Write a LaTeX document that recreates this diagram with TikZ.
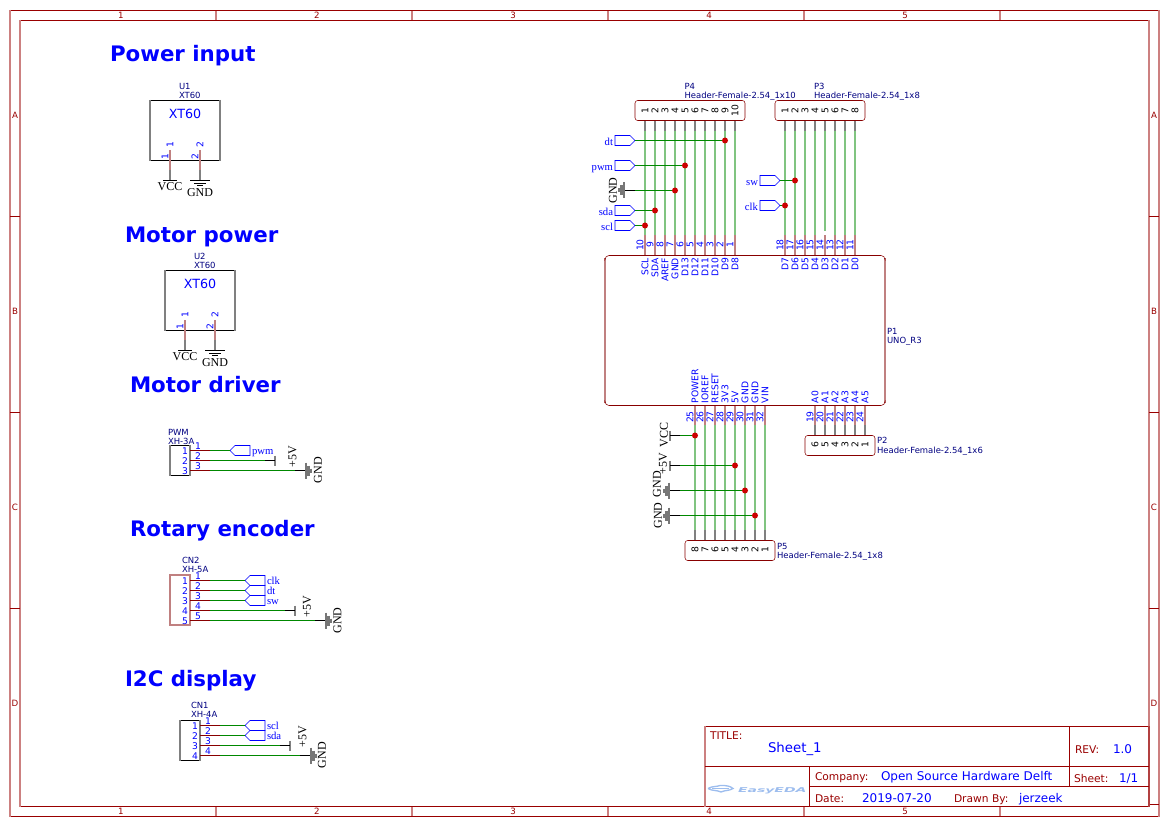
\documentclass[tikz,border=0pt]{standalone}
\usepackage{fontspec}
\setmainfont{DejaVu Sans}
\newfontfamily\serifnet{Liberation Serif}
\definecolor{frm}{HTML}{990000}
\definecolor{frmlt}{HTML}{CC8080}
\definecolor{wirec}{HTML}{008800}
\definecolor{wirelt}{HTML}{80C480}
\definecolor{pinred}{HTML}{880000}
\definecolor{pinlt}{HTML}{C08080}
\definecolor{graylt}{HTML}{808080}
\definecolor{blu}{HTML}{0000FF}
\definecolor{navy2}{HTML}{000080}
\definecolor{dotc}{HTML}{CC0000}
\definecolor{gndg}{HTML}{777777}
\definecolor{logoc}{HTML}{9DBDEE}
\tikzset{
  x=0.75pt,y=-0.75pt,
  line width=0.75pt,
  tx/.style={inner sep=0pt,outer sep=0pt},
  frametxt/.style={tx,text=frm,font=\fontsize{6.5}{7}\selectfont},
  frmv/.style={draw=frmlt,line width=1.5pt},
  tbred/.style={tx,text=frm,anchor=mid west,font=\fontsize{8}{9}\selectfont},
  tbblue/.style={tx,text=blu,anchor=mid west,font=\fontsize{9}{10}\selectfont},
  heading/.style={tx,text=blu,anchor=mid west,font=\fontsize{16}{18}\selectfont\bfseries},
  part/.style={tx,text=navy2,anchor=mid west,font=\fontsize{6.35}{7}\selectfont},
  pinnum/.style={tx,text=blu,font=\fontsize{6.9}{7}\selectfont},
  pinblk/.style={tx,text=black,font=\fontsize{6.9}{7}\selectfont},
  pow/.style={tx,text=black,font=\fontsize{9}{10}\serifnet},
  netl/.style={tx,text=blu,font=\fontsize{8}{9}\serifnet},
  flagline/.style={draw=blu},
  wire/.style={draw=wirec},
  wirev/.style={draw=wirelt,line width=1.5pt},
  pinr/.style={draw=pinred},
  pinv/.style={draw=pinlt,line width=1.5pt},
  pink/.style={draw=black},
  pinkv/.style={draw=graylt,line width=1.5pt},
  hdr/.style={draw=pinred,rounded corners=2pt},
  dot/.style={circle,fill=dotc,inner sep=0pt,minimum size=4.5pt},
  gbar/.style={draw=gndg,line width=1.9pt},
}
% flags: tip pointing right
\newcommand\flagR[4]{%
  \draw[flagline] (#2-20,#3-5) -- (#2-5,#3-5) -- (#2,#3) -- (#2-5,#3+5) -- (#2-20,#3+5) -- cycle;
  \coordinate (#1) at (#2,#3);
  \node[netl,anchor=mid east] (#1t) at (#2-22,#3+1) {#4};}
% flags: tip pointing left
\newcommand\flagL[4]{%
  \draw[flagline] (#2+20,#3-5) -- (#2+5,#3-5) -- (#2,#3) -- (#2+5,#3+5) -- (#2+20,#3+5) -- cycle;
  \coordinate (#1) at (#2,#3);
  \node[netl,anchor=mid west] (#1t) at (#2+22,#3) {#4};}
% GND bars, stem at x, bars going left / right
\newcommand\gndL[3]{%
  \draw[gbar] (#2-1,#3-8) -- (#2-1,#3+8) (#2-3.5,#3-5) -- (#2-3.5,#3+5) (#2-6,#3-2) -- (#2-6,#3+2);
  \coordinate (#1) at (#2,#3);}
\newcommand\gndR[3]{%
  \draw[gbar] (#2+1,#3-8) -- (#2+1,#3+8) (#2+3.5,#3-5) -- (#2+3.5,#3+5) (#2+6,#3-2) -- (#2+6,#3+2);
  \coordinate (#1) at (#2,#3);}
\newcommand\barV[3]{%
  \draw[pinkv] (#2,#3-5) -- (#2,#3+5);
  \coordinate (#1) at (#2,#3);}
\newcommand\junc[3]{\node[dot] (#1) at (#2,#3) {};}
\newcommand\connrow[4]{% name, box right x, y, number
  \coordinate (#1a) at (#2,#3);
  \coordinate (#1b) at (#2+20,#3);
  \draw[pinr] (#1a) -- (#1b);
  \node[pinnum] (#1n) at (#2-5,#3+1) {#4};
  \node[pinnum] (#1m) at (#2+8,#3-4) {#4};}
\begin{document}
\begin{tikzpicture}
\useasboundingbox (0,0) rectangle (1169,827);
% sheet frame
\draw[frm] (10,10.5) -- (1159,10.5) (10,816.5) -- (1159,816.5);
\draw[frm] (20,20.5) -- (1149,20.5) (20,806.5) -- (1149,806.5);
\draw[frmv] (10,10) -- (10,817) (20,20) -- (20,807) (1159,10) -- (1159,817) (1149,20) -- (1149,727);
\foreach \x in {216,412,608,804,1000}{
  \draw[frmv] (\x,11) -- (\x,20);
  \draw[frmv] (\x,807) -- (\x,816);}
\foreach \y in {216.5,412.5,608.5}{
  \draw[frm] (10,\y) -- (20,\y);
  \draw[frm] (1149,\y) -- (1159,\y);}
\draw[frm] (1149,804.5) -- (1159,804.5);
\foreach \x/\n in {121/1,317/2,513/3,709/4,905/5}{
  \node[frametxt] (ft\n) at (\x,15.5) {\n};
  \node[frametxt] (fb\n) at (\x,811.5) {\n};}
\foreach \y/\n in {115/A,311/B,507/C,703/D}{
  \node[frametxt] (fl\n) at (15,\y) {\n};
  \node[frametxt] (fr\n) at (1154,\y) {\n};}
% title block
\draw[frm] (705,726.5) -- (1149,726.5) (705,806.5) -- (1149,806.5);
\draw[frmv] (705,726) -- (705,807);
\draw[draw=frm!75!white,line width=1.5pt] (1149,726) -- (1149,807);
\draw[frm] (705,766.5) -- (1149,766.5);
\draw[frm] (1069.5,726.5) -- (1069.5,786.5);
\draw[frm] (809.5,766.5) -- (809.5,806.5);
\draw[frm] (809,786.5) -- (1149,786.5);
\node[tbred] (tb1) at (710,736) {TITLE:};
\node[tbblue,font=\fontsize{10}{12}\selectfont] (tb2) at (768,748.5) {Sheet\_1};
\node[tbred] (tb3) at (1075,750) {REV:};
\node[tbblue] (tb4) at (1113,750) {1.0};
\node[tbred] (tb5) at (815,777) {Company:};
\node[tbblue] (tb6) at (881,776.5) {Open Source Hardware Delft};
\node[tbred] (tb7) at (1074,779) {Sheet:};
\node[tbblue] (tb8) at (1119,779) {1/1};
\node[tbred] (tb9) at (815,799) {Date:};
\node[tbblue] (tb10) at (862,798.5) {2019-07-20};
\node[tbred] (tb11) at (954,799) {Drawn By:};
\node[tbblue] (tb12) at (1019,798.5) {jerzeek};
% logo
\draw[logoc,line width=1pt] (708,788.5) .. controls (712,786) and (716,787) .. (720,785.5) .. controls (726,785) and (731,786.5) .. (733,788.5) .. controls (729,791) and (725,790) .. (721,792) .. controls (717,790) and (712,791) .. (708,788.5);
\draw[logoc,line width=0.6pt] (712,788.5) -- (729,788.5);
\node[tx,text=logoc,anchor=mid west,xscale=2.1,font=\fontsize{5}{6}\selectfont\bfseries\itshape] (logo) at (738,789) {EasyEDA};
% headings
\node[heading] (h1) at (110,58) {Power input};
\node[heading] (h2) at (125,239) {Motor power};
\node[heading] (h3) at (130,389) {Motor driver};
\node[heading] (h4) at (130,533) {Rotary encoder};
\node[heading] (h5) at (125,683) {I2C display};
% XT60 U1
\node[part] (u1a) at (179,85.5) {U1};
\node[part] (u1b) at (179,94.5) {XT60};
\draw[black] (150,100.5) -- (220,100.5) (150,160.5) -- (220,160.5);
\draw[pinkv] (150,100) -- (150,161) (220,100) -- (220,161);
\node[tx,text=blu,font=\fontsize{9.5}{11}\selectfont] (u1c) at (185,114) {XT60};
\coordinate (u1p1a) at (170,150); \coordinate (u1p1b) at (170,170); \coordinate (u1p1c) at (170,180);
\coordinate (u1p2a) at (200,150); \coordinate (u1p2b) at (200,170); \coordinate (u1p2c) at (200,180);
\draw[pinv] (u1p1a) -- (u1p1b); \draw[pinkv] (u1p1b) -- (u1p1c);
\draw[pinv] (u1p2a) -- (u1p2b); \draw[pinkv] (u1p2b) -- (u1p2c);
\node[pinnum,rotate=90] (u1n1) at (170,145) {1};
\node[pinnum,rotate=90] (u1n2) at (200,145) {2};
\node[pinnum,rotate=90] (u1n3) at (165,157) {1};
\node[pinnum,rotate=90] (u1n4) at (195,157) {2};
\draw[black] (163,180.5) -- (177,180.5);
\node[pow] (u1v) at (170,186.5) {VCC};
\draw[black] (190,180.5) -- (210,180.5) (194,183) -- (206,183) (197,185.5) -- (203,185.5);
\node[pow] (u1g) at (200,192.5) {GND};
% XT60 U2
\node[part] (u2a) at (194,255.5) {U2};
\node[part] (u2b) at (194,264.5) {XT60};
\draw[black] (165,270.5) -- (235,270.5) (165,330.5) -- (235,330.5);
\draw[pinkv] (165,270) -- (165,331) (235,270) -- (235,331);
\node[tx,text=blu,font=\fontsize{9.5}{11}\selectfont] (u2c) at (200,284) {XT60};
\coordinate (u2p1a) at (185,320); \coordinate (u2p1b) at (185,340); \coordinate (u2p1c) at (185,350);
\coordinate (u2p2a) at (215,320); \coordinate (u2p2b) at (215,340); \coordinate (u2p2c) at (215,350);
\draw[pinv] (u2p1a) -- (u2p1b); \draw[pinkv] (u2p1b) -- (u2p1c);
\draw[pinv] (u2p2a) -- (u2p2b); \draw[pinkv] (u2p2b) -- (u2p2c);
\node[pinnum,rotate=90] (u2n1) at (185,315) {1};
\node[pinnum,rotate=90] (u2n2) at (215,315) {2};
\node[pinnum,rotate=90] (u2n3) at (180,327) {1};
\node[pinnum,rotate=90] (u2n4) at (210,327) {2};
\draw[black] (178,350.5) -- (192,350.5);
\node[pow] (u2v) at (185,356.5) {VCC};
\draw[black] (205,350.5) -- (225,350.5) (209,353) -- (221,353) (212,355.5) -- (218,355.5);
\node[pow] (u2g) at (215,362.5) {GND};
% PWM connector
\node[part] (pwa) at (168,431.5) {PWM};
\node[part] (pwb) at (168,440.5) {XH-3A};
\draw[black] (170,445.5) -- (190,445.5) (170,475.5) -- (190,475.5);
\draw[pinkv] (170,445) -- (170,476) (190,445) -- (190,476);
\connrow{pw1}{190}{450.5}{1}
\connrow{pw2}{190}{460.5}{2}
\connrow{pw3}{190}{470.5}{3}
\flagL{pwmf}{230}{450.5}{pwm}
\draw[wire] (pw1b) -- (pwmf);
\barV{pwv}{275}{460.5}
\draw[wire] (pw2b) -- (265,460.5); \draw[pink] (265,460.5) -- (pwv);
\node[pow,rotate=90] (pwvt) at (292.5,457) {+5V};
\gndR{pwg}{305}{470.5}
\draw[wire] (pw3b) -- (295,470.5); \draw[pink] (295,470.5) -- (pwg);
\node[pow,rotate=90] (pwgt) at (318,470) {GND};
% CN2
\node[part] (c2a) at (182,559.5) {CN2};
\node[part] (c2b) at (182,568.5) {XH-5A};
\draw[pinv] (170,575) rectangle (190,625);
\connrow{c21}{190}{580.5}{1}
\connrow{c22}{190}{590.5}{2}
\connrow{c23}{190}{600.5}{3}
\connrow{c24}{190}{610.5}{4}
\connrow{c25}{190}{620.5}{5}
\flagL{clkf}{245}{580.5}{clk}
\flagL{dtf}{245}{590.5}{dt}
\flagL{swf}{245}{600.5}{sw}
\draw[wire] (c21b) -- (clkf);
\draw[wire] (c22b) -- (dtf);
\draw[wire] (c23b) -- (swf);
\barV{c2v}{295}{610.5}
\draw[wire] (c24b) -- (285,610.5); \draw[pink] (285,610.5) -- (c2v);
\node[pow,rotate=90] (c2vt) at (307,607) {+5V};
\gndR{c2g}{325}{620.5}
\draw[wire] (c25b) -- (315,620.5); \draw[pink] (315,620.5) -- (c2g);
\node[pow,rotate=90] (c2gt) at (337.5,620.5) {GND};
% CN1
\node[part] (c1a) at (191,704.5) {CN1};
\node[part] (c1b) at (191,713.5) {XH-4A};
\draw[black] (180,720.5) -- (200,720.5) (180,760.5) -- (200,760.5);
\draw[pinkv] (180,720) -- (180,761) (200,720) -- (200,761);
\connrow{c11}{200}{725.5}{1}
\connrow{c12}{200}{735.5}{2}
\connrow{c13}{200}{745.5}{3}
\connrow{c14}{200}{755.5}{4}
\flagL{sclf}{245}{725.5}{scl}
\flagL{sdaf}{245}{735.5}{sda}
\draw[wire] (c11b) -- (sclf);
\draw[wire] (c12b) -- (sdaf);
\barV{c1v}{290}{745.5}
\draw[wire] (c13b) -- (280,745.5); \draw[pink] (280,745.5) -- (c1v);
\node[pow,rotate=90] (c1vt) at (302.5,737) {+5V};
\gndR{c1g}{310}{755.5}
\draw[wire] (c14b) -- (300,755.5); \draw[pink] (300,755.5) -- (c1g);
\node[pow,rotate=90] (c1gt) at (322,755) {GND};
% Arduino P1
\draw[pinv] (605,258) -- (605,403) (885,258) -- (885,403);
\draw[pinred,rounded corners=3pt] (605,258) -- (605,255.5) -- (885,255.5) -- (885,258);
\draw[pinred,rounded corners=3pt] (605,403) -- (605,405.5) -- (885,405.5) -- (885,403);
\node[part] (p1a) at (887,330.5) {P1};
\node[part] (p1b) at (887,339.5) {UNO\_R3};
% P4 header and its wires
\node[part] (p4a) at (684.5,85.5) {P4};
\node[part] (p4b) at (684.5,94.5) {Header-Female-2.54\_1x10};
\draw[hdr] (635,100.5) rectangle (745,120.5);
\foreach \n/\x/\m/\lab in {1/645/10/SCL,2/655/9/SDA,3/665/8/AREF,4/675/7/GND,5/685/6/D13,6/695/5/D12,7/705/4/D11,8/715/3/D10,9/725/2/D9,10/735/1/D8}{
  \coordinate (p4t\n) at (\x,121); \coordinate (p4m\n) at (\x,131);
  \coordinate (p4u\n) at (\x,235); \coordinate (p4v\n) at (\x,255);
  \draw[pinkv] (p4t\n) -- (p4m\n);
  \draw[wirev] (p4m\n) -- (p4u\n);
  \draw[pinv] (p4u\n) -- (p4v\n);
  \node[pinblk,rotate=90] (p4n\n) at (\x,110.5) {\n};
  \node[pinnum,rotate=90] (p1n\m) at (\x-5,245) {\m};
  \node[pinnum,rotate=90,anchor=east] (p1l\m) at (\x,258) {\lab};
}
% P3 header and its wires
\node[part] (p3a) at (814,85.5) {P3};
\node[part] (p3b) at (814,94.5) {Header-Female-2.54\_1x8};
\draw[hdr] (775,100.5) rectangle (865,120.5);
\foreach \n/\x/\m/\lab/\e in {1/785/18/D7/235,2/795/17/D6/235,3/805/16/D5/235,4/815/15/D4/235,5/825/14/D3/231,6/835/13/D2/235,7/845/12/D1/235,8/855/11/D0/235}{
  \coordinate (p3t\n) at (\x,121); \coordinate (p3m\n) at (\x,131);
  \coordinate (p3u\n) at (\x,\e); \coordinate (p3w\n) at (\x,235); \coordinate (p3v\n) at (\x,255);
  \draw[pinkv] (p3t\n) -- (p3m\n);
  \draw[wirev] (p3m\n) -- (p3u\n);
  \draw[pinv] (p3w\n) -- (p3v\n);
  \node[pinblk,rotate=90] (p3n\n) at (\x,110.5) {\n};
  \node[pinnum,rotate=90] (p1n\m) at (\x-5,245) {\m};
  \node[pinnum,rotate=90,anchor=east] (p1l\m) at (\x,258) {\lab};
}
% P5 header
\node[part] (p5a) at (777,545.5) {P5};
\node[part] (p5b) at (777,554.5) {Header-Female-2.54\_1x8};
\draw[hdr] (685,540.5) rectangle (775,560.5);
\foreach \n/\x/\m/\lab in {8/695/25/POWER,7/705/26/IOREF,6/715/27/RESET,5/725/28/3V3,4/735/29/5V,3/745/30/GND,2/755/31/GND,1/765/32/VIN}{
  \coordinate (p5a\n) at (\x,406); \coordinate (p5b\n) at (\x,425);
  \coordinate (p5c\n) at (\x,530); \coordinate (p5d\n) at (\x,540);
  \draw[pinv] (p5a\n) -- (p5b\n);
  \draw[wirev] (p5b\n) -- (p5c\n);
  \draw[pinkv] (p5c\n) -- (p5d\n);
  \node[pinblk,rotate=90] (p5n\n) at (\x,550) {\n};
  \node[pinnum,rotate=90] (p1n\m) at (\x-5,417) {\m};
  \node[pinnum,rotate=90,anchor=west] (p1l\m) at (\x,403) {\lab};
}
% P2 header
\node[part] (p2a) at (877,440) {P2};
\node[part] (p2b) at (877,449.5) {Header-Female-2.54\_1x6};
\draw[hdr] (805,435.5) rectangle (875,455.5);
\foreach \n/\x/\m/\lab in {6/815/19/A0,5/825/20/A1,4/835/21/A2,3/845/22/A3,2/855/23/A4,1/865/24/A5}{
  \coordinate (p2a\n) at (\x,406); \coordinate (p2b\n) at (\x,425); \coordinate (p2c\n) at (\x,435);
  \draw[pinv] (p2a\n) -- (p2b\n);
  \draw[pinkv] (p2b\n) -- (p2c\n);
  \node[pinblk,rotate=90] (p2n\n) at (\x,445) {\n};
  \node[pinnum,rotate=90] (p1n\m) at (\x-5,417) {\m};
  \node[pinnum,rotate=90,anchor=west] (p1l\m) at (\x,403) {\lab};
}
% nets at P4
\flagR{fdt}{635}{140.5}{dt}   \junc{jdt}{725}{140.5} \draw[wire] (fdt) -- (jdt);
\flagR{fpwm}{635}{165.5}{pwm} \junc{jpwm}{685}{165.5} \draw[wire] (fpwm) -- (jpwm);
\flagR{fsda}{635}{210.5}{sda} \junc{jsda}{655}{210.5} \draw[wire] (fsda) -- (jsda);
\flagR{fscl}{635}{225.5}{scl} \junc{jscl}{645}{225.5} \draw[wire] (fscl) -- (jscl);
\gndL{g4}{625}{190.5}
\coordinate (g4s) at (635,190.5);
\junc{jg4}{675}{190.5}
\draw[pink] (g4) -- (g4s); \draw[wire] (g4s) -- (jg4);
\node[pow,rotate=90] (g4t) at (613,190.5) {GND};
% nets at P3
\flagR{fsw}{780}{180.5}{sw} \junc{jsw}{795}{180.5} \draw[wire] (fsw) -- (jsw);
\flagR{fclk}{780}{205.5}{clk} \junc{jclk}{785}{205.5} \draw[wire] (fclk) -- (jclk);
% nets at P5
\barV{vcc5}{670}{435.5}
\coordinate (vcc5s) at (680,435.5); \junc{jvcc}{695}{435.5}
\draw[pink] (vcc5) -- (vcc5s); \draw[wire] (vcc5s) -- (jvcc);
\node[pow,rotate=90] (vcc5t) at (664,435) {VCC};
\barV{v55}{670}{465.5}
\coordinate (v55s) at (680,465.5); \junc{jv5}{735}{465.5}
\draw[pink] (v55) -- (v55s); \draw[wire] (v55s) -- (jv5);
\node[pow,rotate=90] (v55t) at (663,464) {+5V};
\gndL{g5a}{670}{490.5}
\coordinate (g5as) at (680,490.5); \junc{jg5a}{745}{490.5}
\draw[pink] (g5a) -- (g5as); \draw[wire] (g5as) -- (jg5a);
\node[pow,rotate=90] (g5at) at (657,484) {GND};
\gndL{g5b}{670}{515.5}
\coordinate (g5bs) at (680,515.5); \junc{jg5b}{755}{515.5}
\draw[pink] (g5b) -- (g5bs); \draw[wire] (g5bs) -- (jg5b);
\node[pow,rotate=90] (g5bt) at (658,515.5) {GND};
\end{tikzpicture}
\end{document}
